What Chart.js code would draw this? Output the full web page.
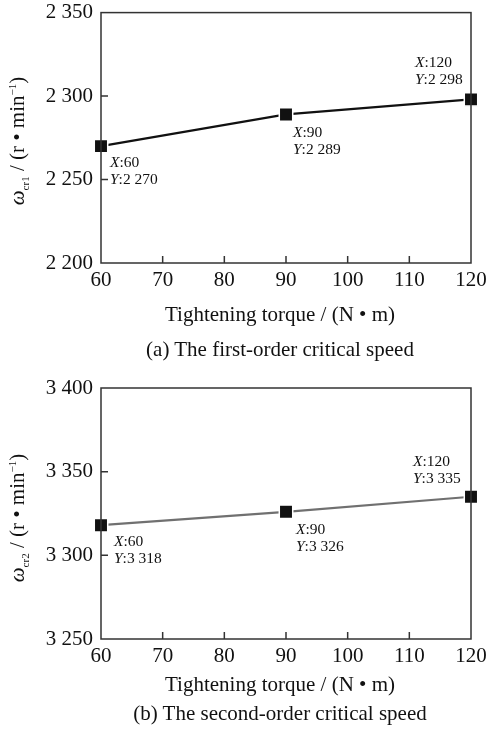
<!DOCTYPE html>
<html>
<head>
<meta charset="utf-8">
<script src="https://cdn.jsdelivr.net/npm/chart.js@4"></script>
<style>
  body { margin: 0; background: #fff; font-family: "Liberation Serif", "Times New Roman", serif; color: #111; }
  #wrap { position: relative; width: 491px; height: 732px; overflow: hidden; }
  .panel { position: absolute; left: 0; width: 491px; }
  .ytitle { position: absolute; width: 220px; text-align: center; font-size: 21px; white-space: nowrap;
            transform: translate(-50%, -50%) rotate(-90deg); }
  .ytitle sub { font-size: 11px; }
  .ytitle sup { font-size: 11px; }
  .xtitle, .caption { position: absolute; left: 0; width: 560px; text-align: center; font-size: 21px; white-space: nowrap; }
</style>
</head>
<body>
<div id="wrap">
  <div class="panel" style="top:0;height:365px"><canvas id="c1"></canvas></div>
  <div class="panel" style="top:365px;height:367px"><canvas id="c2"></canvas></div>

  <div class="ytitle" style="left:18px;top:141px"><i>ω</i><sub>cr1</sub> / (r • min<sup>−1</sup>)</div>
  <div class="xtitle" style="top:302px">Tightening torque / (N • m)</div>
  <div class="caption" style="top:337px">(a) The first-order critical speed</div>

  <div class="ytitle" style="left:18px;top:518px"><i>ω</i><sub>cr2</sub> / (r • min<sup>−1</sup>)</div>
  <div class="xtitle" style="top:672px">Tightening torque / (N • m)</div>
  <div class="caption" style="top:701px">(b) The second-order critical speed</div>
</div>
<script>
// data
const torque = [60, 90, 120];
const speed1 = [2270, 2289, 2298];
const speed2 = [3318, 3326, 3335];
const xTicks = [60, 70, 80, 90, 100, 110, 120];
const yTicks1 = [2200, 2250, 2300, 2350];
const yTicks2 = [3250, 3300, 3350, 3400];

const SERIF = '"Liberation Serif", "Times New Roman", serif';

function fmt(v) {
  return Math.floor(v / 1000) + ' ' + String(v % 1000).padStart(3, '0');
}

// box + inward ticks + point labels
const decor = {
  id: 'decor',
  afterDatasetsDraw(chart, args, opts) {
    const ctx = chart.ctx;
    const a = chart.chartArea;
    const xs = chart.scales.x, ys = chart.scales.y;
    ctx.save();
    ctx.strokeStyle = '#333';
    ctx.lineWidth = 1.5;
    ctx.strokeRect(a.left, a.top, a.right - a.left, a.bottom - a.top);
    ctx.beginPath();
    xTicks.slice(1, -1).forEach(v => {
      const px = xs.getPixelForValue(v);
      ctx.moveTo(px, a.bottom); ctx.lineTo(px, a.bottom - 7);
    });
    opts.yTicks.slice(1, -1).forEach(v => {
      const py = ys.getPixelForValue(v);
      ctx.moveTo(a.left, py); ctx.lineTo(a.left + 7, py);
    });
    ctx.stroke();

    // data tip labels
    ctx.fillStyle = '#111';
    ctx.textBaseline = 'middle';
    const meta = chart.getDatasetMeta(0);
    meta.data.forEach((pt, i) => {
      const off = opts.offsets[i];
      const x0 = pt.x + off[0], y0 = pt.y + off[1];
      const lines = [['X', ':' + torque[i]], ['Y', ':' + fmt(opts.values[i])]];
      lines.forEach((ln, k) => {
        const y = y0 + k * 17;
        ctx.font = 'italic 15.5px ' + SERIF;
        ctx.fillText(ln[0], x0, y);
        const w = ctx.measureText(ln[0]).width;
        ctx.font = '15.5px ' + SERIF;
        ctx.fillText(ln[1], x0 + w, y);
      });
    });
    ctx.restore();
  }
};

function makeChart(id, values, yTicks, color, padTop, xHeight, offsets) {
  new Chart(document.getElementById(id), {
    type: 'line',
    data: {
      datasets: [{
        data: torque.map((t, i) => ({ x: t, y: values[i] })),
        borderColor: color,
        borderWidth: 2.2,
        pointStyle: 'rect',
        pointRadius: 9.5,
        pointBackgroundColor: '#111',
        pointBorderColor: '#fff',
        pointBorderWidth: 1.5,
        clip: false
      }]
    },
    options: {
      responsive: true,
      maintainAspectRatio: false,
      animation: false,
      layout: { padding: { left: 0, right: 20, top: padTop, bottom: 0 } },
      plugins: {
        legend: { display: false },
        tooltip: { enabled: false },
        decor: { yTicks: yTicks, values: values, offsets: offsets }
      },
      scales: {
        x: {
          type: 'linear',
          min: xTicks[0], max: xTicks[xTicks.length - 1],
          afterBuildTicks: s => { s.ticks = xTicks.map(v => ({ value: v })); },
          afterFit: s => { s.height = xHeight; },
          grid: { display: false },
          border: { display: false },
          ticks: { color: '#111', font: { family: SERIF, size: 21 }, padding: -3, maxRotation: 0 }
        },
        y: {
          min: yTicks[0], max: yTicks[yTicks.length - 1],
          afterBuildTicks: s => { s.ticks = yTicks.map(v => ({ value: v })); },
          afterFit: s => { s.width = 101; },
          grid: { display: false },
          border: { display: false },
          ticks: { color: '#111', font: { family: SERIF, size: 21 }, padding: 0, callback: v => fmt(v) }
        }
      }
    },
    plugins: [decor]
  });
}

makeChart('c1', speed1, yTicks1, '#111', 11, 102, [[9, 17], [7, 18], [-56, -36]]);
makeChart('c2', speed2, yTicks2, '#707070', 23, 93, [[13, 17], [10, 18], [-58, -35]]);
</script>
</body>
</html>
